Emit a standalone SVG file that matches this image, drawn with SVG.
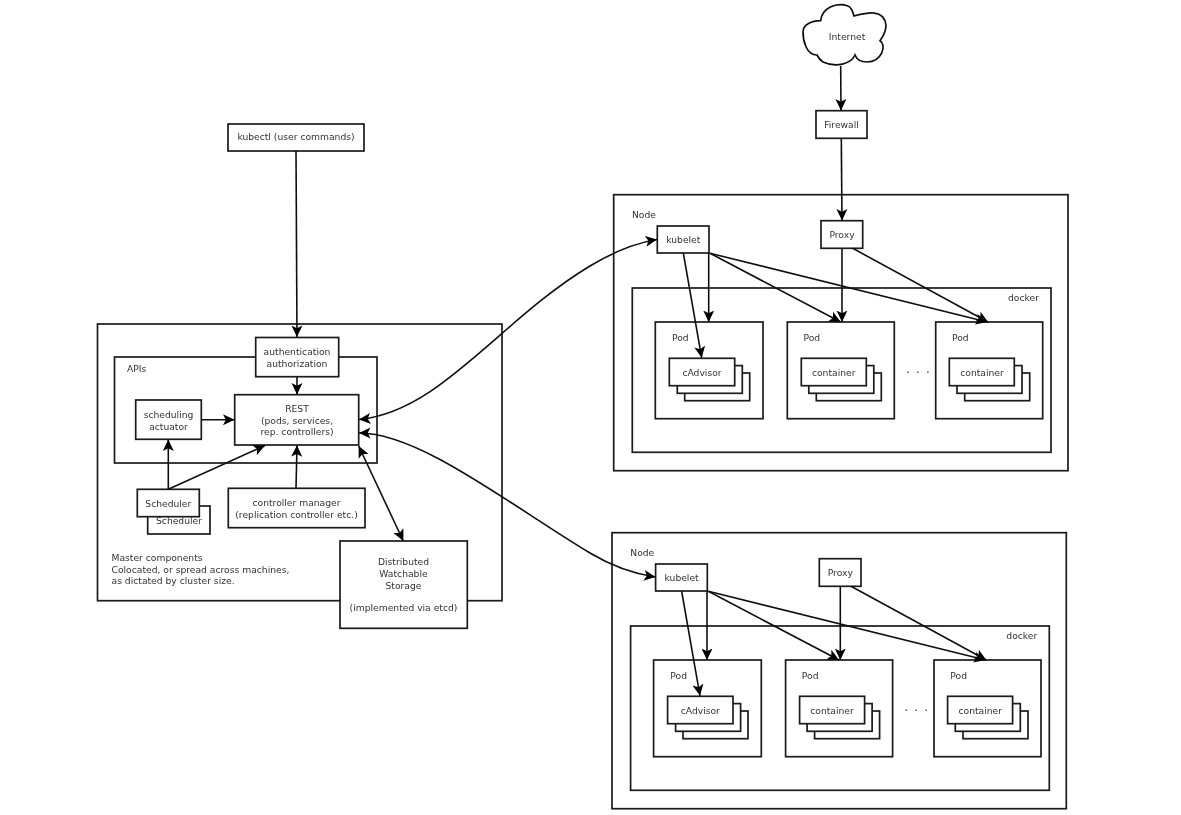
<svg xmlns="http://www.w3.org/2000/svg" width="1181" height="815" viewBox="0 0 1181 815">
<style>
rect{fill:#fff;stroke:#1a1a1a;stroke-width:1.7}
.c{fill:none;stroke:#111;stroke-width:1.6}
.a{marker-end:url(#ah)}
.b{marker-end:url(#ah);marker-start:url(#as)}
text{font-family:"DejaVu Sans",Verdana,sans-serif;font-size:9.2px;fill:#333}
.m{text-anchor:middle}
.d{font-size:12px;letter-spacing:6.200px}
</style>
<defs>
<marker id="ah" markerUnits="userSpaceOnUse" markerWidth="14" markerHeight="14" refX="11.500" refY="6.500" orient="auto"><path d="M0,1 L11.500,6.500 L0,12 L2.800,6.500 Z" fill="#000"/></marker>
<marker id="as" markerUnits="userSpaceOnUse" markerWidth="14" markerHeight="14" refX="0" refY="6.500" orient="auto"><path d="M11.500,1 L0,6.500 L11.500,12 L8.700,6.500 Z" fill="#000"/></marker>
<filter id="soft" filterUnits="userSpaceOnUse" x="0" y="0" width="1181" height="815"><feGaussianBlur stdDeviation="0.35"/></filter>
</defs>
<rect x="0" y="0" width="1181" height="815" style="fill:#fff;stroke:none"/>
<g filter="url(#soft)">
<g id="master"><rect x="97.5" y="324" width="404.5" height="276.7"/>
<text x="111.5" y="561">Master components</text><text x="111.5" y="572.500">Colocated, or spread across machines,</text><text x="111.5" y="584">as dictated by cluster size.</text></g>
<g id="apis"><rect x="114.5" y="357" width="262.5" height="106"/><text x="127" y="372">APIs</text></g>
<g id="kubectl"><rect x="228" y="124" width="136" height="27"/><text class="m" x="296" y="140">kubectl (user commands)</text></g>
<g id="auth"><rect x="255.700" y="337.500" width="83" height="39.200"/><text class="m" x="297" y="355">authentication</text><text class="m" x="297" y="366.500">authorization</text></g>
<g id="rest"><rect x="234.700" y="394.700" width="124" height="50.300"/><text class="m" x="297" y="412">REST</text><text class="m" x="297" y="424">(pods, services,</text><text class="m" x="297" y="435">rep. controllers)</text></g>
<g id="actuator"><rect x="135.700" y="400" width="65.600" height="39.300"/><text class="m" x="168.500" y="418">scheduling</text><text class="m" x="168.500" y="429.500">actuator</text></g>
<g id="scheduler2"><rect x="147.700" y="506" width="62.300" height="28"/><text class="m" x="179" y="524">Scheduler</text></g>
<g id="scheduler"><rect x="137.300" y="489.300" width="62" height="27.400"/><text class="m" x="168.300" y="506.500">Scheduler</text></g>
<g id="controller"><rect x="228.300" y="488.300" width="136.700" height="39.400"/><text class="m" x="296.500" y="506">controller manager</text><text class="m" x="296.500" y="518">(replication controller etc.)</text></g>
<g id="storage"><rect x="340" y="541" width="127.300" height="87.300"/><text class="m" x="403.500" y="565">Distributed</text><text class="m" x="403.500" y="577">Watchable</text><text class="m" x="403.500" y="588.500">Storage</text><text class="m" x="403.500" y="611">(implemented via etcd)</text></g>
<g id="internet"><path d="M820.700,20.700 C822,8 836,2 848,6 C851,7 853,12 854,16 C866,13 884,8 886,25 C886,32 882,38 880,40.700 C887,45 882,62 867,62 C862,62 857,60 855,55 C851,64 836,68 823,62 C820,60 818,57 817,55 C806,55 803,40 803,32 C803,24 812,21 820.700,20.700 Z" fill="#fff" stroke="#111" stroke-width="1.7"/><text class="m" x="847" y="40">Internet</text></g>
<g id="firewall"><rect x="816" y="110.700" width="51" height="27.600"/><text class="m" x="841.500" y="128">Firewall</text></g>

<g id="node1"><rect x="613.700" y="194.700" width="454.300" height="276"/><text x="632" y="218">Node</text></g>
<g id="docker1"><rect x="632.300" y="288" width="418.700" height="164.300"/><text x="1008" y="301">docker</text></g>
<g id="kubelet1"><rect x="657.300" y="226" width="51.700" height="27"/><text class="m" x="683.300" y="243">kubelet</text></g>
<g id="proxy1"><rect x="821" y="220.700" width="41.700" height="27.600"/><text class="m" x="842" y="238">Proxy</text></g>
<g id="pod1a"><rect x="655.300" y="322" width="107.700" height="96.700"/><text x="672" y="341">Pod</text><rect x="684.700" y="373" width="65" height="27.700"/><rect x="677.300" y="365.600" width="65" height="27.700"/><rect x="669.300" y="358.300" width="65.400" height="27.400"/><text class="m" x="702" y="376">cAdvisor</text></g>
<g id="pod1b"><rect x="787.300" y="322" width="107" height="96.700"/><text x="803.500" y="341">Pod</text><rect x="816.300" y="373" width="65" height="27.700"/><rect x="808.800" y="365.600" width="65" height="27.700"/><rect x="801.300" y="358.300" width="65" height="27.400"/><text class="m" x="833.700" y="376">container</text></g>
<g id="dots1"><text class="m d" x="921" y="373">...</text></g>
<g id="pod1c"><rect x="935.700" y="322" width="107" height="96.700"/><text x="952" y="341">Pod</text><rect x="964.700" y="373" width="65" height="27.700"/><rect x="957" y="365.600" width="65" height="27.700"/><rect x="949.300" y="358.300" width="65" height="27.400"/><text class="m" x="982" y="376">container</text></g>

<g id="node2"><rect x="612" y="532.700" width="454.300" height="276"/><text x="630.300" y="556">Node</text></g>
<g id="docker2"><rect x="630.600" y="626" width="418.700" height="164.300"/><text x="1006.300" y="639">docker</text></g>
<g id="kubelet2"><rect x="655.600" y="564" width="51.700" height="27"/><text class="m" x="681.600" y="581">kubelet</text></g>
<g id="proxy2"><rect x="819.300" y="558.700" width="41.700" height="27.600"/><text class="m" x="840.300" y="576">Proxy</text></g>
<g id="pod2a"><rect x="653.600" y="660" width="107.700" height="96.700"/><text x="670.300" y="679">Pod</text><rect x="683" y="711" width="65" height="27.700"/><rect x="675.600" y="703.600" width="65" height="27.700"/><rect x="667.600" y="696.300" width="65.400" height="27.400"/><text class="m" x="700.300" y="714">cAdvisor</text></g>
<g id="pod2b"><rect x="785.600" y="660" width="107" height="96.700"/><text x="801.800" y="679">Pod</text><rect x="814.600" y="711" width="65" height="27.700"/><rect x="807.100" y="703.600" width="65" height="27.700"/><rect x="799.600" y="696.300" width="65" height="27.400"/><text class="m" x="832" y="714">container</text></g>
<g id="dots2"><text class="m d" x="919.300" y="711">...</text></g>
<g id="pod2c"><rect x="934" y="660" width="107" height="96.700"/><text x="950.300" y="679">Pod</text><rect x="963" y="711" width="65" height="27.700"/><rect x="955.300" y="703.600" width="65" height="27.700"/><rect x="947.600" y="696.300" width="65" height="27.400"/><text class="m" x="980.300" y="714">container</text></g>

<g id="connectors">
<path class="c a" d="M296,151 L297,337"/>
<path class="c a" d="M297,377 L297,394.500"/>
<path class="c a" d="M201.500,419.700 L234.500,419.700"/>
<path class="c a" d="M168.300,489 L168.300,439.500"/>
<path class="c a" d="M168.300,489.300 L265,445.500"/>
<path class="c a" d="M296,488 L297,445.200"/>
<path class="c b" d="M358.700,446 L403.300,541"/>
<path class="c b" d="M359,419.500 C440,412 500,320 590,266 C615,251 635,243 657,239.500"/>
<path class="c b" d="M359,433 C420,433 510,505 590,553 C615,568 635,574 655.500,577"/>
<path class="c a" d="M840.700,66 L841,110.500"/>
<path class="c a" d="M841.300,138.500 L842,220.500"/>
<path class="c a" d="M683.300,253 L701.700,357.800"/>
<path class="c a" d="M708.700,253 L708.700,322"/>
<path class="c a" d="M710,253.300 L840.700,322"/>
<path class="c a" d="M710,253.300 L987.300,322"/>
<path class="c a" d="M842,248.300 L842,322"/>
<path class="c a" d="M852.700,248.300 L988,322"/>
<path class="c a" d="M681.600,591 L700,695.800"/>
<path class="c a" d="M707,591 L707,660"/>
<path class="c a" d="M708.300,591.300 L839,660"/>
<path class="c a" d="M708.300,591.300 L985.600,660"/>
<path class="c a" d="M840.300,586.300 L840.300,660"/>
<path class="c a" d="M851,586.300 L986.300,660"/>
</g>
</g>
</svg>
